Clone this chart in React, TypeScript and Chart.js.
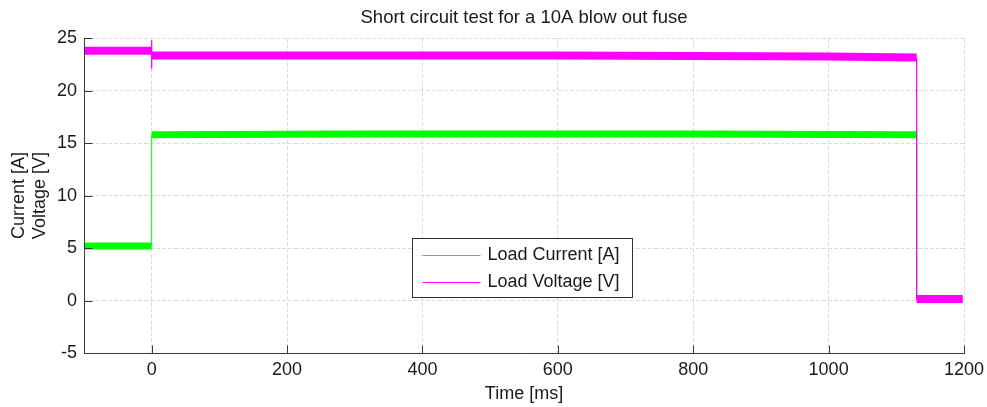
import { useEffect, useRef } from 'react';
import { Chart, registerables } from 'chart.js';

Chart.register(...registerables);

const chartTitle = 'Short circuit test for a 10A blow out fuse';
const xAxisTitle = 'Time [ms]';
const yAxisTitle = ['Current [A]', 'Voltage [V]'];
const seriesLabels = ['Load Current [A]', 'Load Voltage [V]'];
const seriesColors = ['#00ff00', '#ff00ff'];

const currentTimeMs = [-100, 0, 0, 300, 800, 1130, 1130, 1198];
const currentValues = [5.2, 5.2, 15.8, 15.86, 15.86, 15.8, 0.1, 0.1];

const voltageTimeMs = [-100, 0, 0, 0, 0, 600, 1000, 1130, 1130, 1198];
const voltageValues = [23.8, 23.8, 24.8, 22.1, 23.35, 23.35, 23.25, 23.15, 0.15, 0.15];

const xTickValues = [0, 200, 400, 600, 800, 1000, 1200];
const yTickValues = [-5, 0, 5, 10, 15, 20, 25];
const xRange = [-100, 1200];
const yRange = [-5, 25];

const FONT = '"Liberation Sans", Arial, Helvetica, sans-serif';
const TEXT = '#1a1a1a';
const AXIS = '#3a3a3a';

const axesPlugin = {
  id: 'matlabAxes',
  afterDatasetsDraw(chart: any) {
    const { ctx, chartArea, scales } = chart;
    ctx.save();
    ctx.strokeStyle = AXIS;
    ctx.lineWidth = 1;
    ctx.setLineDash([]);
    const L = Math.round(chartArea.left) + 0.5;
    const B = Math.round(chartArea.bottom) + 0.5;
    ctx.beginPath();
    ctx.moveTo(L, Math.round(chartArea.top));
    ctx.lineTo(L, B);
    ctx.lineTo(Math.round(chartArea.right) + 1, B);
    for (const v of xTickValues) {
      const px = Math.round(scales.x.getPixelForValue(v)) + 0.5;
      ctx.moveTo(px, B);
      ctx.lineTo(px, B - 8);
    }
    for (const v of yTickValues) {
      const py = Math.round(scales.y.getPixelForValue(v)) + 0.5;
      ctx.moveTo(L, py);
      ctx.lineTo(L + 8, py);
    }
    ctx.stroke();
    ctx.restore();
  },
};

const boxLegendPlugin = {
  id: 'boxLegend',
  afterDatasetsDraw(chart: any) {
    const { ctx, chartArea } = chart;
    const w = chartArea.right - chartArea.left;
    const h = chartArea.bottom - chartArea.top;
    const left = Math.round(chartArea.left + w * 0.3727) + 0.5;
    const top = Math.round(chartArea.top + h * 0.635) + 0.5;
    const bw = 220;
    const bh = 59;
    ctx.save();
    ctx.setLineDash([]);
    ctx.fillStyle = '#ffffff';
    ctx.fillRect(left, top, bw, bh);
    ctx.strokeStyle = '#333333';
    ctx.lineWidth = 1;
    ctx.strokeRect(left, top, bw, bh);
    const rows = [16, 43];
    chart.data.datasets.forEach((ds: any, i: number) => {
      const y = Math.round(top + rows[i]) + 0.5;
      ctx.strokeStyle = seriesColors[i];
      ctx.lineWidth = 1;
      ctx.beginPath();
      ctx.moveTo(left + 10, y);
      ctx.lineTo(left + 68, y);
      ctx.stroke();
      ctx.fillStyle = TEXT;
      ctx.font = `18px ${FONT}`;
      ctx.textBaseline = 'middle';
      ctx.textAlign = 'left';
      ctx.fillText(ds.label, left + 75, y);
    });
    ctx.restore();
  },
};

const segWidth = (band: number) => (c: any) =>
  c.p0.parsed.x === c.p1.parsed.x ? 1 : band;

export default function App() {
  const ref = useRef<HTMLCanvasElement | null>(null);

  useEffect(() => {
    document.body.style.margin = '0';
    const canvas = ref.current;
    if (!canvas) return;
    const chart = new Chart(canvas, {
      type: 'line',
      data: {
        datasets: [
          {
            label: seriesLabels[0],
            data: currentTimeMs.map((x, i) => ({ x, y: currentValues[i] })),
            borderColor: seriesColors[0],
            backgroundColor: seriesColors[0],
            borderWidth: 7,
            borderCapStyle: 'butt',
            borderJoinStyle: 'bevel',
            pointRadius: 0,
            tension: 0,
            order: 2,
            segment: { borderWidth: segWidth(7) },
          },
          {
            label: seriesLabels[1],
            data: voltageTimeMs.map((x, i) => ({ x, y: voltageValues[i] })),
            borderColor: seriesColors[1],
            backgroundColor: seriesColors[1],
            borderWidth: 8,
            borderCapStyle: 'butt',
            borderJoinStyle: 'bevel',
            pointRadius: 0,
            tension: 0,
            order: 1,
            segment: { borderWidth: segWidth(8) },
          },
        ],
      },
      options: {
        animation: false,
        responsive: true,
        maintainAspectRatio: false,
        devicePixelRatio: 1,
        layout: { padding: { left: 0, right: 23, top: 0, bottom: 0 } },
        plugins: {
          legend: { display: false },
          tooltip: { enabled: false },
          title: {
            display: true,
            fullSize: false,
            text: chartTitle,
            color: TEXT,
            font: { family: FONT, size: 18.5, weight: 'normal' },
            padding: { top: 7, bottom: 9 },
          },
        },
        scales: {
          x: {
            type: 'linear',
            min: xRange[0],
            max: xRange[1],
            afterBuildTicks: (s: any) => {
              s.ticks = xTickValues.map((v) => ({ value: v }));
            },
            afterFit: (s: any) => {
              s.height = 54;
              s.paddingRight = 0;
              s.paddingLeft = 0;
            },
            grid: { color: '#dcdcdc', lineWidth: 1, drawTicks: false },
            border: { display: false, dash: [4, 2] },
            ticks: {
              color: TEXT,
              font: { family: FONT, size: 18 },
              padding: 6,
              maxRotation: 0,
              autoSkip: false,
              callback: (v: any) => String(v),
            },
            title: {
              display: true,
              text: xAxisTitle,
              color: TEXT,
              font: { family: FONT, size: 18 },
              padding: { top: 0, bottom: 2 },
            },
          },
          y: {
            type: 'linear',
            min: yRange[0],
            max: yRange[1],
            afterBuildTicks: (s: any) => {
              s.ticks = yTickValues.map((v) => ({ value: v }));
            },
            afterFit: (s: any) => {
              s.width = 84;
            },
            grid: { color: '#dcdcdc', lineWidth: 1, drawTicks: false },
            border: { display: false, dash: [4, 2] },
            ticks: {
              color: TEXT,
              font: { family: FONT, size: 18 },
              padding: 7,
              callback: (v: any) => String(v),
            },
            title: {
              display: true,
              text: yAxisTitle,
              color: TEXT,
              font: { family: FONT, size: 18 },
              padding: { top: 8, bottom: 0 },
            },
          },
        },
      },
      plugins: [axesPlugin, boxLegendPlugin],
    } as any);
    return () => chart.destroy();
  }, []);

  return (
    <div style={{ width: '987px', height: '407px', position: 'relative' }}>
      <canvas ref={ref} />
    </div>
  );
}
